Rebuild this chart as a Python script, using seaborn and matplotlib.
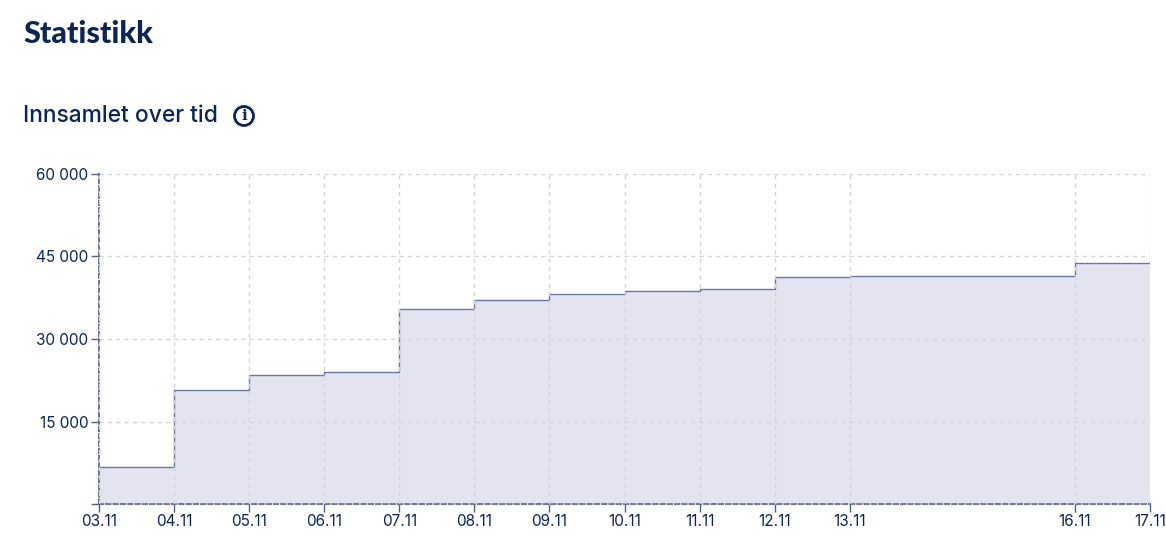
import matplotlib
matplotlib.use('Agg')
import matplotlib.pyplot as plt
import matplotlib.patches as mpatches
import pandas as pd
import seaborn as sns

# Collected amount per day (day of month, November)
days = [3, 4, 5, 6, 7, 8, 9, 10, 11, 12, 13, 16, 17]
collected = [6800, 20700, 23450, 24000, 35450, 37100, 38200, 38800, 39100, 41300, 41500, 43800, 43800]
y_ticks = [15000, 30000, 45000, 60000]
y_labels = ['15 000', '30 000', '45 000', '60 000']
x_labels = ['03.11', '04.11', '05.11', '06.11', '07.11', '08.11', '09.11',
            '10.11', '11.11', '12.11', '13.11', '16.11', '17.11']

navy = '#0b2559'
grid_col = '#d3d5dd'
edge_col = '#6a78a6'
fill_col = '#e4e4f1'

sns.set_theme(style='white')
plt.rcParams['font.family'] = ['Inter', 'DejaVu Sans']

df = pd.DataFrame({'day': days, 'collected': collected})

W, H = 1166, 555
fig = plt.figure(figsize=(W / 100, H / 100), dpi=100)
ax = fig.add_axes([99 / W, (H - 504) / H, 1051 / W, 330 / H])

# Filled step area, line goes under the grid so the risers look dashed
ax.fill_between(df['day'], df['collected'], 0, step='post', color=fill_col, lw=0, zorder=1)
sns.lineplot(data=df, x='day', y='collected', drawstyle='steps-post', color=edge_col,
             linewidth=1, errorbar=None, ax=ax, zorder=2)

ax.set_xlim(3, 17)
ax.set_ylim(0, 60000)
ax.set_xticks(days)
ax.set_xticklabels(x_labels)
ax.set_yticks([0] + y_ticks)
ax.set_yticklabels([''] + y_labels)
ax.set_xlabel('')
ax.set_ylabel('')

ax.grid(True, color=grid_col, linestyle=(0, (3, 3)), linewidth=1)
ax.set_axisbelow(False)
ax.tick_params(axis='both', length=6, width=1, color='#555f80', labelsize=11,
               labelcolor=navy, pad=1.5, bottom=True, left=True)

for side in ['top', 'right']:
    ax.spines[side].set_visible(False)
for side in ['left', 'bottom']:
    ax.spines[side].set_color('#6f76a0')
    ax.spines[side].set_linewidth(1.5)
    ax.spines[side].set_linestyle((0, (2, 1.5)))

# Headings
fig.text(23 / W, 1 - 43 / H, 'Statistikk', color=navy, fontsize=22, fontweight='black',
         family='Lato', va='baseline')
fig.text(23 / W, 1 - 122 / H, 'Innsamlet over tid', color=navy, fontsize=16.4, fontweight='medium',
         va='baseline')

# Info icon next to the heading
icon = mpatches.Ellipse((244 / W, 1 - 116 / H), 19 / W, 19 / H, transform=fig.transFigure,
                        facecolor='white', edgecolor=navy, linewidth=2)
fig.add_artist(icon)
fig.text(244 / W, 1 - 116 / H, 'i', color=navy, fontsize=11, fontweight='bold',
         family='DejaVu Serif', ha='center', va='center')

fig.savefig('out.png', dpi=100)
